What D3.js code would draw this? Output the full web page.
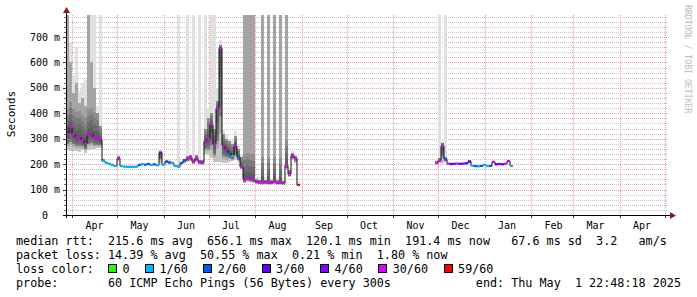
<!DOCTYPE html>
<html>
<head>
<meta charset="utf-8">
<script src="https://cdn.jsdelivr.net/npm/d3@7"></script>
<style>
  html, body { margin: 0; padding: 0; background: #fff; }
  svg { display: block; font-family: "DejaVu Sans Mono", monospace; }
  .pre { white-space: pre; }
</style>
</head>
<body>
<svg id="chart" width="697" height="297"></svg>
<script>
// smokeping "last 400 days" graph, values in ms, one sample every 2 days
const endTime = "2025-05-01T22:48:18Z";
const spanDays = 400;
const stepDays = 2;

// first block of data: end of March to mid August 2024
const springStart = "2024-03-27T22:48:18Z";
const springMedian = [320,345,318,305,308,295,280,315,322,305,300,298,
  212,205,200,196,192,222,192,190,189,189,189,190,
  197,199,198,200,196,199,195,245,197,210,206,204,
  192,190,204,215,222,226,210,224,208,206,
  292,300,355,278,418,656,272,258,244,232,272,228,190,
  140,145,140,138,131,129,128,129,128,128,130,127,126,125,
  195,160,234,224,118];
const springLoss = [5,5,5,5,5,5,5,5,5,5,5,5,
  1,1,1,1,1,5,1,1,1,1,1,1,
  2,1,2,2,1,2,1,3,1,2,2,1,
  1,1,2,2,5,5,5,5,5,5,
  5,5,5,5,5,5,5,5,2,1,5,2,5,
  5,5,5,5,5,5,5,5,5,5,5,5,5,5,
  5,5,5,5,6];
const springLo = [255,250,252,250,248,255,245,255,258,258,262,262,
  208,201,197,193,189,212,189,187,186,186,186,187,
  194,196,195,197,193,196,192,205,194,205,202,200,
  188,186,196,203,208,212,200,210,198,196,
  240,235,225,210,208,210,205,205,210,212,215,210,180,
  125,130,128,126,121,120,119,120,119,119,121,118,118,117,
  180,150,215,205,116];
const springQ = [786,600,480,520,440,460,430,786,600,500,400,350,
  220,209,204,200,196,232,196,194,193,193,193,194,
  201,203,202,204,200,203,199,250,201,215,211,208,
  197,195,210,222,232,236,220,234,218,216,
  340,380,400,340,450,670,320,300,290,280,310,260,230,
  786,786,786,786,140,138,786,139,786,137,786,136,786,134,
  786,175,242,232,122];
const springHi = [786,680,545,660,492,520,530,786,786,786,430,786,
  224,212,207,203,199,240,199,197,196,196,196,197,
  204,206,205,207,203,206,202,255,204,219,215,212,
  200,786,214,222,786,240,786,228,786,222,
  786,420,786,786,500,690,340,320,300,290,330,270,240,
  786,786,786,786,150,148,786,149,786,147,786,146,786,144,
  786,185,250,240,128];

// second block of data: end of November 2024 to early January 2025
const winterStart = "2024-11-28T22:48:18Z";
const winterMedian = [205,214,271,220,202,200,201,202,201,202,203,210,194,192,191,193,197,192,193,209,199,200,199,201,212,193];
const winterLoss = [5,5,5,2,5,3,4,5,3,4,3,3,1,2,1,2,1,1,2,5,3,4,3,5,5,1];
const winterLo = [198,205,205,208,197,196,197,198,197,198,199,203,190,188,187,189,193,188,189,203,195,196,195,197,205,189];
const winterQ = [212,225,285,228,206,204,205,206,205,206,207,216,198,196,195,197,201,196,197,214,203,204,203,205,218,197];
const winterHi = [216,786,290,786,209,207,208,209,208,209,210,220,201,199,198,200,204,199,200,218,206,207,206,208,222,200];

const lossColors = ["#26ff00", "#00b8ff", "#0059ff", "#5e00ff", "#7e00ff", "#dd00ff", "#ff0000"];
const lossLabels = ["0", "1/60", "2/60", "3/60", "4/60", "30/60", "59/60"];
const yTicks = [0, 100, 200, 300, 400, 500, 600, 700];
const monthLabels = ["Apr", "May", "Jun", "Jul", "Aug", "Sep", "Oct", "Nov", "Dec", "Jan", "Feb", "Mar", "Apr"];

const legendRtt = "median rtt:  215.6 ms avg  656.1 ms max  120.1 ms min  191.4 ms now   67.6 ms sd  3.2   am/s";
const legendLoss = "packet loss: 14.39 % avg  50.55 % max  0.21 % min  1.80 % now";
const legendProbe = "probe:       60 ICMP Echo Pings (56 Bytes) every 300s";
const legendEnd = "end: Thu May  1 22:48:18 2025";

const W = 697, H = 297;
const plot = { left: 66, right: 666, top: 15, bottom: 215 };

const end = d3.isoParse(endTime);
const start = d3.utcDay.offset(end, -spanDays);
const x = d3.scaleUtc().domain([start, end]).range([plot.left, plot.right]);
const y = d3.scaleLinear().domain([0, 786.5]).range([plot.bottom, plot.top]);

const svg = d3.select("#chart");
svg.append("rect").attr("width", W).attr("height", H).attr("fill", "#fff");

svg.append("defs").append("clipPath").attr("id", "plotClip")
  .append("rect")
  .attr("x", plot.left).attr("y", plot.top)
  .attr("width", plot.right - plot.left).attr("height", plot.bottom - plot.top);

// grid
const grid = svg.append("g");
const minorVals = d3.range(20, 786, 20).filter((v) => v % 100 !== 0);
grid.selectAll(".minor").data(minorVals).join("line")
  .attr("x1", plot.left).attr("x2", plot.right + 2)
  .attr("y1", (d) => Math.round(y(d)) + 0.5).attr("y2", (d) => Math.round(y(d)) + 0.5)
  .attr("stroke", "#c4c4c4").attr("stroke-dasharray", "1,1");
grid.selectAll(".major").data(yTicks.filter((v) => v > 0)).join("line")
  .attr("x1", plot.left).attr("x2", plot.right + 2)
  .attr("y1", (d) => Math.round(y(d)) + 0.5).attr("y2", (d) => Math.round(y(d)) + 0.5)
  .attr("stroke", "#ee9c9c").attr("stroke-dasharray", "1,1");

const monthStarts = d3.utcMonth.range(d3.utcMonth.ceil(start), end);
grid.selectAll(".vmajor").data(monthStarts).join("line")
  .attr("x1", (d) => Math.round(x(d)) + 0.5).attr("x2", (d) => Math.round(x(d)) + 0.5)
  .attr("y1", plot.top).attr("y2", plot.bottom)
  .attr("stroke", "#ee9c9c").attr("stroke-dasharray", "1,1");

// data
function buildBlock(startIso, median, lo, q, hi, loss) {
  const t0 = d3.isoParse(startIso);
  return median.map((m, i) => ({
    t: d3.utcDay.offset(t0, i * stepDays),
    t1: d3.utcDay.offset(t0, (i + 1) * stepDays),
    median: m, lo: lo[i], q: q[i], hi: hi[i], loss: loss[i]
  }));
}
const blocks = [
  buildBlock(springStart, springMedian, springLo, springQ, springHi, springLoss),
  buildBlock(winterStart, winterMedian, winterLo, winterQ, winterHi, winterLoss)
];

const dataG = svg.append("g").attr("clip-path", "url(#plotClip)");

blocks.forEach((pts) => {
  const smoke = dataG.append("g").attr("shape-rendering", "crispEdges");
  const colX = (d) => Math.round(x(d.t));
  const colW = (d) => Math.round(x(d.t1)) - Math.round(x(d.t));

  // faint outer smoke
  smoke.append("g").selectAll("rect").data(pts).join("rect")
    .attr("x", colX).attr("width", colW)
    .attr("y", (d) => y(d.hi)).attr("height", (d) => y(d.lo) - y(d.hi))
    .attr("fill", "#e0e0e0");
  // medium smoke
  smoke.append("g").selectAll("rect").data(pts).join("rect")
    .attr("x", colX).attr("width", colW)
    .attr("y", (d) => y(d.q))
    .attr("height", (d) => y(d.median - (d.median - d.lo) * 0.6) - y(d.q))
    .attr("fill", "#a4a4a4");
  // dark core around the median
  d3.range(1, 5).forEach((k) => {
    const top = (d) => y(d.median + Math.min(d.q - d.median, 100) * k / 4);
    smoke.append("g").selectAll("rect").data(pts).join("rect")
      .attr("x", colX).attr("width", colW)
      .attr("y", top)
      .attr("height", (d) => y(d.median - (d.median - d.lo) * k / 4) - top(d))
      .attr("fill", "#000").attr("fill-opacity", 0.13);
  });

  // median: thin black step line, then colour by packet loss
  const stepPts = pts.map((d) => [d.t, d.median]);
  stepPts.push([pts[pts.length - 1].t1, pts[pts.length - 1].median]);
  dataG.append("path")
    .attr("d", d3.line().x((d) => x(d[0])).y((d) => y(d[1])).curve(d3.curveStepAfter)(stepPts))
    .attr("fill", "none").attr("stroke", "#111").attr("stroke-width", 1);
  dataG.append("g").selectAll("line").data(pts).join("line")
    .attr("x1", (d) => x(d.t)).attr("x2", (d) => x(d.t1))
    .attr("y1", (d) => y(d.median)).attr("y2", (d) => y(d.median))
    .attr("stroke", (d) => lossColors[d.loss]).attr("stroke-width", 2);
});

// axes
const axisG = svg.append("g");
axisG.selectAll(".yminor").data(minorVals).join("line")
  .attr("x1", plot.left - 2).attr("x2", plot.left)
  .attr("y1", (d) => Math.round(y(d)) + 0.5).attr("y2", (d) => Math.round(y(d)) + 0.5)
  .attr("stroke", "#666");
axisG.selectAll(".ymajor").data(yTicks).join("line")
  .attr("x1", plot.left - 3).attr("x2", plot.left)
  .attr("y1", (d) => Math.round(y(d)) + 0.5).attr("y2", (d) => Math.round(y(d)) + 0.5)
  .attr("stroke", "#333");
axisG.selectAll(".xtick").data(monthStarts).join("line")
  .attr("x1", (d) => Math.round(x(d)) + 0.5).attr("x2", (d) => Math.round(x(d)) + 0.5)
  .attr("y1", plot.bottom).attr("y2", plot.bottom + 3)
  .attr("stroke", "#333");

axisG.append("line")
  .attr("x1", plot.left - 3).attr("x2", 671).attr("y1", plot.bottom + 0.5).attr("y2", plot.bottom + 0.5)
  .attr("stroke", "#000");
axisG.append("line")
  .attr("x1", plot.left + 0.5).attr("x2", plot.left + 0.5).attr("y1", plot.bottom + 3).attr("y2", 11)
  .attr("stroke", "#000");
axisG.append("path").attr("d", "M670,212L676,215.5L670,219Z").attr("fill", "#8b1c1c");
axisG.append("path").attr("d", "M63,13L66.5,7L70,13Z").attr("fill", "#8b1c1c");

const tickFont = 10;
const tickCw = 0.602 * tickFont;
svg.append("g").selectAll("text").data(yTicks).join("text")
  .attr("x", (d) => (d === 0 ? 60 - 2 * tickCw : 60))
  .attr("y", (d) => y(d)).attr("dy", "0.36em")
  .attr("text-anchor", "end").attr("font-size", tickFont).attr("fill", "#000")
  .text((d) => (d === 0 ? "0" : `${d} m`));

svg.append("g").selectAll("text").data(monthStarts.slice(0, monthLabels.length)).join("text")
  .attr("x", (d) => x(d3.utcDay.offset(d, 15)))
  .attr("y", 229)
  .attr("text-anchor", "middle").attr("font-size", tickFont).attr("fill", "#000")
  .text((d, i) => monthLabels[i]);

svg.append("text")
  .attr("transform", "translate(11,114) rotate(-90)")
  .attr("text-anchor", "middle").attr("dominant-baseline", "central")
  .attr("font-size", 11).attr("fill", "#000")
  .text("Seconds");

svg.append("text")
  .attr("transform", "translate(687.5,5) rotate(90)")
  .attr("dominant-baseline", "central")
  .attr("font-size", 8.2).attr("fill", "#bbb")
  .text("RRDTOOL / TOBI OETIKER");

// legend
const legFont = 11.75;
const cw = 0.602 * legFont;
const legX = 16;
const leg = svg.append("g").attr("font-size", legFont).attr("fill", "#000");
leg.append("text").attr("class", "pre").attr("x", legX).attr("y", 245).text(legendRtt);
leg.append("text").attr("class", "pre").attr("x", legX).attr("y", 259).text(legendLoss);
leg.append("text").attr("class", "pre").attr("x", legX).attr("y", 273).text("loss color:");
leg.append("text").attr("class", "pre").attr("x", legX).attr("y", 287).text(legendProbe);
leg.append("text").attr("class", "pre").attr("x", 681).attr("y", 287).attr("text-anchor", "end").text(legendEnd);

let bx = legX + 13 * cw;
lossLabels.forEach((lab, i) => {
  leg.append("rect")
    .attr("x", Math.round(bx) + 0.5).attr("y", 264.5).attr("width", 8).attr("height", 8)
    .attr("fill", lossColors[i]).attr("stroke", "#000");
  const tx = bx + 14.5;
  leg.append("text").attr("x", tx).attr("y", 273).text(lab);
  bx = tx + lab.length * cw + 15.5;
});
</script>
</body>
</html>
